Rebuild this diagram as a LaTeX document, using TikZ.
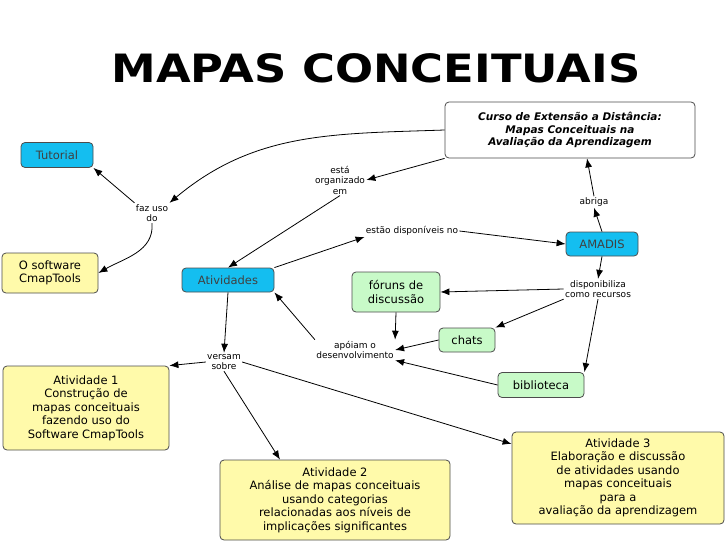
\documentclass[tikz,border=0pt]{standalone}
\usepackage{fontspec}
\setmainfont{DejaVu Sans}
\usetikzlibrary{arrows.meta}
\definecolor{cmapblue}{RGB}{20,190,240}
\definecolor{cmapyellow}{RGB}{255,250,170}
\definecolor{cmapgreen}{RGB}{200,250,200}
\begin{document}
\begin{tikzpicture}[x=1pt,y=-1pt,>={Latex[length=9pt,width=7pt]},
    concept/.style={rectangle, rounded corners=4pt, draw=black!70, align=center, font=\fontsize{11.5}{13.5}\selectfont, inner sep=3pt},
    blue/.style={concept, fill=cmapblue, text=black!75},
    yellowbox/.style={concept, fill=cmapyellow},
    greenbox/.style={concept, fill=cmapgreen},
    link/.style={align=center, font=\fontsize{9}{10.5}\selectfont, inner sep=1pt},
    every path/.style={thick}]
    \useasboundingbox (0,0) rectangle (728,546);
    % Title
    \node [xscale=1.15] (title) at (376,68) {\fontsize{39}{39}\selectfont\bfseries MAPAS CONCEITUAIS};
    % Concepts
    \node [concept, fill=white, minimum width=250, minimum height=56, font=\fontsize{10.5}{12.5}\selectfont\bfseries\itshape] (curso) at (570,130) {Curso de Extensão a Distância:\\Mapas Conceituais na\\Avaliação da Aprendizagem};
    \node [blue, minimum width=72, minimum height=25] (tutorial) at (57,155) {Tutorial};
    \node [yellowbox, minimum width=96, minimum height=40] (software) at (50,273) {O software\\CmapTools};
    \node [blue, minimum width=92, minimum height=24] (atividades) at (228,280) {Atividades};
    \node [blue, minimum width=72, minimum height=24] (amadis) at (602,244) {AMADIS};
    \node [greenbox, minimum width=88, minimum height=40] (foruns) at (396,292) {fóruns de\\discussão};
    \node [greenbox, minimum width=56, minimum height=24] (chats) at (467,340) {chats};
    \node [greenbox, minimum width=86, minimum height=25] (biblioteca) at (541,385) {biblioteca};
    \node [yellowbox, minimum width=166, minimum height=84] (ativ1) at (86,408) {Atividade 1\\Construção de\\mapas conceituais\\fazendo uso do\\Software CmapTools};
    \node [yellowbox, minimum width=230, minimum height=80] (ativ2) at (335,500) {Atividade 2\\Análise de mapas conceituais\\usando categorias\\relacionadas aos níveis de\\implicações significantes};
    \node [yellowbox, minimum width=212, minimum height=92] (ativ3) at (618,478) {Atividade 3\\Elaboração e discussão\\de atividades usando\\mapas conceituais\\para a\\avaliação da aprendizagem};
    % Linking phrases
    \node [link] (faz) at (152,213) {faz uso\\do};
    \node [link] (esta) at (340,180) {está\\organizado\\em};
    \node [link] (estao) at (412,231) {estão disponíveis no};
    \node [link] (abriga) at (594,202) {abriga};
    \node [link] (disp) at (598,289) {disponibiliza\\como recursos};
    \node [link] (apoiam) at (355,350) {apóiam o\\desenvolvimento};
    \node [link] (versam) at (224,362) {versam\\sobre};
    % Connections
    \draw [->] (curso.west) to[out=182,in=40] (faz.north east);
    \draw [->] (curso.south west) -- (esta.east);
    \draw [->] (esta.south) -- (atividades.north);
    \draw [->] (faz.north west) -- (tutorial.south east);
    \draw [->] (faz.south) to[out=-85,in=30] (software.east);
    \draw [->] (atividades.north east) -- (estao.south west);
    \draw [->] (estao.east) -- (amadis.west);
    \draw [->] (amadis.north) -- (abriga.south);
    \draw [->] (abriga.north) -- (curso.south -| 587,0);
    \draw [->] (amadis.south) -- (disp.north);
    \draw [->] (disp.west) -- (foruns.east);
    \draw [->] (disp.south west) -- (chats.north east);
    \draw [->] (disp.south) -- (biblioteca.north east);
    \draw [->] (foruns.south) -- (apoiam.north east);
    \draw [->] (chats.west) -- (apoiam.east);
    \draw [->] (biblioteca.west) -- (apoiam.south east);
    \draw [->] (apoiam.north west) -- (atividades.south east);
    \draw [->] (atividades.south) -- (versam.north);
    \draw [->] (versam.west) -- (ativ1.north east);
    \draw [->] (versam.south) -- (ativ2.north west -| 280,0);
    \draw [->] (versam.east) -- (ativ3.west |- 0,444);
\end{tikzpicture}
\end{document}
